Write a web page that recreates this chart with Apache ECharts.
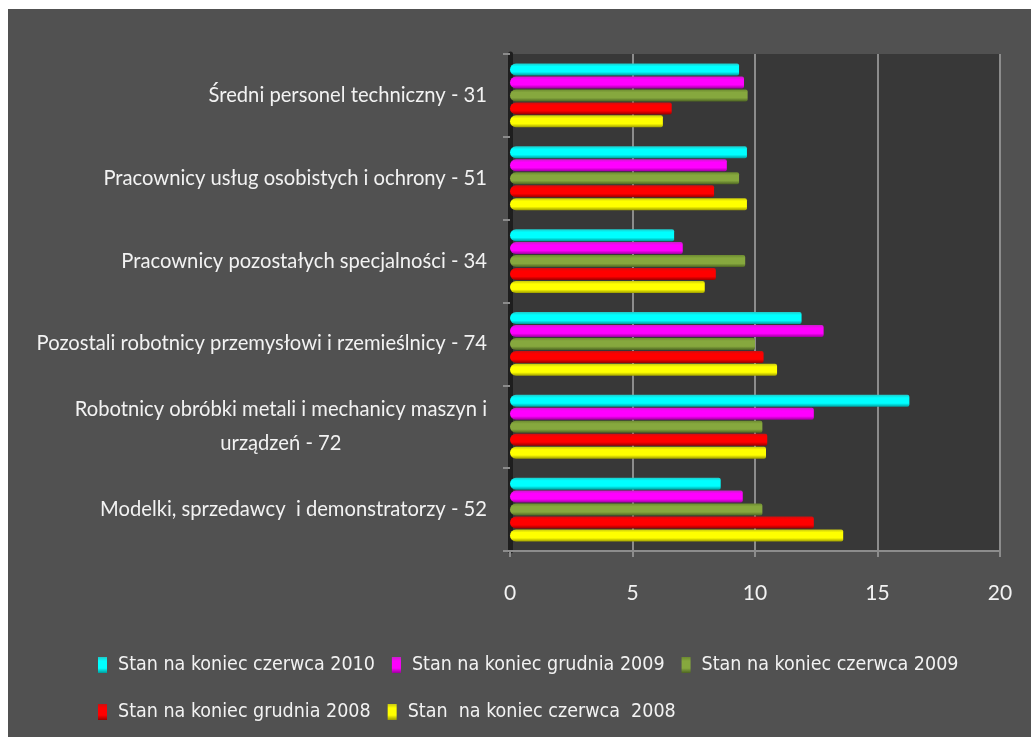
<!DOCTYPE html>
<html>
<head>
<meta charset="utf-8">
<script src="https://cdn.jsdelivr.net/npm/echarts@6/dist/echarts.min.js"></script>
<style>
  html, body { margin: 0; padding: 0; background: #ffffff; }
  #chart { position: absolute; left: 8px; top: 9px; width: 1023px; height: 728px; }
</style>
</head>
<body>
<div id="chart"></div>
<script>
// categories, top to bottom
const categories = [
  "Średni personel techniczny - 31",
  "Pracownicy usług osobistych i ochrony - 51",
  "Pracownicy pozostałych specjalności - 34",
  "Pozostali robotnicy przemysłowi i rzemieślnicy - 74",
  "Robotnicy obróbki metali i mechanicy maszyn i\nurządzeń - 72",
  "Modelki, sprzedawcy  i demonstratorzy - 52"
];

const seriesNames = [
  "Stan na koniec czerwca 2010",
  "Stan na koniec grudnia 2009",
  "Stan na koniec czerwca 2009",
  "Stan na koniec grudnia 2008",
  "Stan  na koniec czerwca  2008"
];

const june2010 = [9.35, 9.67, 6.7, 11.9, 16.3, 8.6];
const dec2009 = [9.55, 8.85, 7.05, 12.8, 12.4, 9.5];
const june2009 = [9.7, 9.35, 9.6, 10.0, 10.3, 10.3];
const dec2008 = [6.6, 8.33, 8.4, 10.35, 10.5, 12.4];
const june2008 = [6.24, 9.67, 7.95, 10.9, 10.45, 13.6];

const xTicks = [0, 5, 10, 15, 20];

const seriesData = [june2010, dec2009, june2009, dec2008, june2008];

// edge / middle / bottom shades for the tube look
const shades = [
  ["#20c8c8", "#00ffff", "#009c9c"],
  ["#c820c8", "#ff00ff", "#9c009c"],
  ["#6c8a30", "#86a83e", "#4d6422"],
  ["#cc1010", "#ff0000", "#990000"],
  ["#c8c810", "#ffff00", "#9c9c00"]
];

const legendFont = "'DejaVu Sans Condensed', Lato, sans-serif";
const labelFont = "Lato, 'Open Sans', sans-serif";

function tube(c) {
  return new echarts.graphic.LinearGradient(0, 0, 0, 1, [
    { offset: 0, color: c[0] },
    { offset: 0.25, color: c[1] },
    { offset: 0.7, color: c[1] },
    { offset: 1, color: c[2] }
  ]);
}

const chart = echarts.init(document.getElementById("chart"));

const legendBase = {
  icon: "rect",
  itemWidth: 9,
  itemHeight: 16,
  itemGap: 17,
  textStyle: {
    color: "#f2f2f2",
    fontFamily: legendFont,
    fontSize: 19.5,
    padding: [0, 0, 0, 6]
  }
};

chart.setOption({
  backgroundColor: "#515151",
  animation: false,
  grid: {
    left: 502,
    right: 31,
    top: 45,
    bottom: 186,
    show: true,
    backgroundColor: "#383838",
    borderWidth: 0
  },
  legend: [
    Object.assign({}, legendBase, { left: 85, top: 641, data: seriesNames.slice(0, 3) }),
    Object.assign({}, legendBase, { left: 85, top: 688, data: seriesNames.slice(3) })
  ],
  xAxis: {
    type: "value",
    min: xTicks[0],
    max: xTicks[xTicks.length - 1],
    interval: 5,
    axisLine: { show: true, lineStyle: { color: "#8c8c8c", width: 2 } },
    axisTick: { show: true, length: 6, lineStyle: { color: "#8c8c8c", width: 2 } },
    splitLine: { show: true, lineStyle: { color: "#8c8c8c", width: 2 } },
    axisLabel: { color: "#f2f2f2", fontFamily: labelFont, fontSize: 21, margin: 32 }
  },
  yAxis: {
    type: "category",
    inverse: true,
    data: categories,
    axisLine: { show: true, lineStyle: { color: "#1e1e1e", width: 5 } },
    axisTick: { show: true, length: 7, lineStyle: { color: "#8c8c8c", width: 2 } },
    axisLabel: {
      color: "#f2f2f2",
      fontFamily: labelFont,
      fontSize: 20.2,
      margin: 23,
      lineHeight: 34,
      formatter: function (v) {
        if (v.indexOf("\n") < 0) return v;
        const parts = v.split("\n");
        return parts[0] + "\n{c|" + parts[1] + "}";
      },
      rich: {
        c: { width: 408, align: "center", color: "#f2f2f2", fontFamily: labelFont, fontSize: 20.2, lineHeight: 34 }
      }
    }
  },
  series: seriesData.map(function (d, i) {
    return {
      name: seriesNames[i],
      type: "bar",
      data: d,
      barWidth: 12,
      barGap: "8%",
      itemStyle: { color: tube(shades[i]), borderRadius: [6, 2, 2, 6] }
    };
  })
});
</script>
</body>
</html>
